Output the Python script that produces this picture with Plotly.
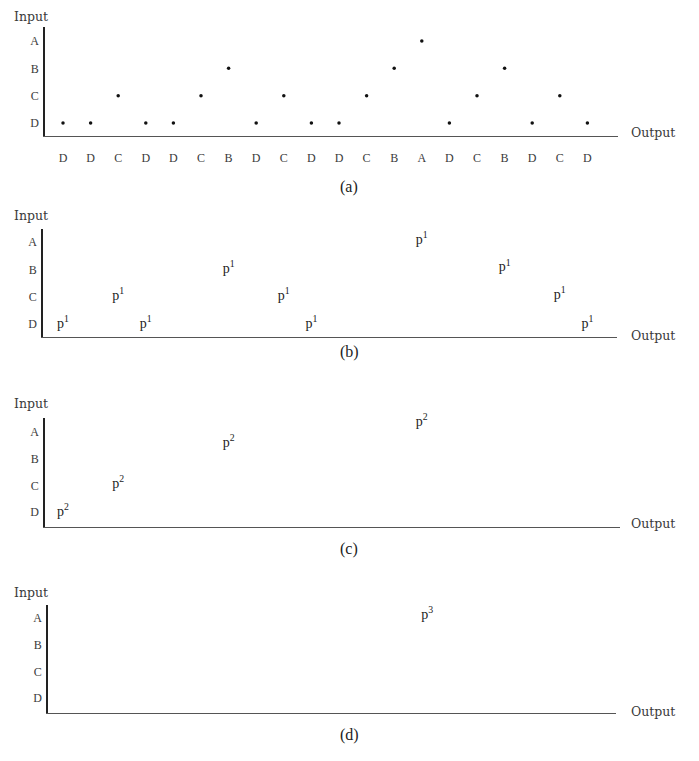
import plotly.graph_objects as go

# ---------------- data ----------------
input_levels = ["D", "C", "B", "A"]          # bottom -> top
level_values = [1, 2, 3, 4]
sequence_a = ["D", "D", "C", "D", "D", "C", "B", "D", "C", "D",
              "D", "C", "B", "A", "D", "C", "B", "D", "C", "D"]
output_index_a = list(range(len(sequence_a)))

b_index = [0, 2, 3, 6, 8, 9, 13, 16, 18, 19]
b_level = [1, 2, 1, 3, 2, 1, 4.05, 3.05, 2.05, 1]
b_label = "p<sup>1</sup>"

c_index = [0, 2, 6, 13]
c_level = [1, 2.02, 3.56, 4.37]
c_label = "p<sup>2</sup>"

d_index = [13.2]
d_level = [4.1]
d_label = "p<sup>3</sup>"

captions = ["(a)", "(b)", "(c)", "(d)"]

# ---------------- layout helpers ----------------
OFF = 8                      # page body margin
W, H = 699 - 2 * OFF, 761 - 2 * OFF
FONT = "Liberation Serif"
LFONT = "DejaVu Serif"
TXT = "#3a3a3a"
X0PX, STEP = 63.0, 27.6      # pixel of output index 0 and spacing


def px_x(p):
    return (p - OFF) / W


def px_y(p):
    return 1 - (p - OFF) / H


level_to_val = dict(zip(input_levels, level_values))
a_level = [level_to_val[s] for s in sequence_a]

# panel geometry in pixels: (axis_left, axis_right, axis_top, axis_bottom, y_of_D, y_of_A)
panels = [
    (45, 618, 27, 136, 123, 41),
    (43, 617, 229, 337, 324, 242),
    (45, 620, 418, 527, 512, 432),
    (48, 616, 605, 713, 698, 618),
]
output_label_y = [132, 335, 523, 711]
input_label_y = [16, 215, 403, 592]
caption_y = [187, 352, 549, 735]

fig = go.Figure()

fig.add_trace(go.Scatter(x=output_index_a, y=a_level, mode="markers",
                         marker=dict(size=3.5, color="#111"), cliponaxis=False,
                         xaxis="x", yaxis="y", showlegend=False, hoverinfo="skip"))
for xs, ys, lab, ax in [(b_index, b_level, b_label, "2"),
                        (c_index, c_level, c_label, "3"),
                        (d_index, d_level, d_label, "4")]:
    fig.add_trace(go.Scatter(x=xs, y=ys, mode="text", text=[lab] * len(xs),
                             textposition="middle center", cliponaxis=False,
                             textfont=dict(family=FONT, size=14, color="#222"),
                             xaxis="x" + ax, yaxis="y" + ax,
                             showlegend=False, hoverinfo="skip"))

layout = dict(
    width=W, height=H,
    margin=dict(l=0, r=0, t=0, b=0),
    paper_bgcolor="white", plot_bgcolor="white",
    font=dict(family=FONT, size=11, color=TXT),
    showlegend=False,
)

annotations = []
for k, (xl, xr, yt, yb, yD, yA) in enumerate(panels):
    sfx = "" if k == 0 else str(k + 1)
    unit = (yD - yA) / 3.0
    y_lo = 1 - (yb - yD) / unit
    y_hi = 4 + (yA - yt) / unit
    x_lo = (xl - X0PX) / STEP
    x_hi = (xr - X0PX) / STEP
    xa = dict(domain=[px_x(xl), px_x(xr)], range=[x_lo, x_hi],
              anchor="y" + sfx, showgrid=False, zeroline=False,
              showline=True, linecolor="#555", linewidth=1.2,
              ticks="", fixedrange=True)
    if k == 0:
        xa.update(tickmode="array", tickvals=output_index_a, ticktext=sequence_a,
                  showticklabels=True, ticklabelstandoff=10,
                  tickfont=dict(family=FONT, size=12, color=TXT))
    else:
        xa.update(showticklabels=False)
    ya = dict(domain=[px_y(yb), px_y(yt)], range=[y_lo, y_hi],
              anchor="x" + sfx, showgrid=False, zeroline=False,
              showline=True, linecolor="#222", linewidth=1.5,
              ticks="", tickmode="array", tickvals=level_values, ticktext=input_levels,
              ticklabelstandoff=2,
              tickfont=dict(family=FONT, size=12, color=TXT), fixedrange=True)
    layout["xaxis" + sfx] = xa
    layout["yaxis" + sfx] = ya

    annotations.append(dict(text="Input", xref="paper", yref="paper",
                            x=px_x(12), y=px_y(input_label_y[k]), xanchor="left",
                            yanchor="middle", showarrow=False,
                            font=dict(family=LFONT, size=12.5, color=TXT)))
    annotations.append(dict(text="Output", xref="paper", yref="paper",
                            x=px_x(629), y=px_y(output_label_y[k]), xanchor="left",
                            yanchor="middle", showarrow=False,
                            font=dict(family=LFONT, size=12.5, color=TXT)))
    annotations.append(dict(text=captions[k], xref="paper", yref="paper",
                            x=px_x(349), y=px_y(caption_y[k]), xanchor="center",
                            yanchor="middle", showarrow=False,
                            font=dict(family=FONT, size=16, color="#222")))

layout["annotations"] = annotations
fig.update_layout(**layout)
fig.write_html("out.html")
